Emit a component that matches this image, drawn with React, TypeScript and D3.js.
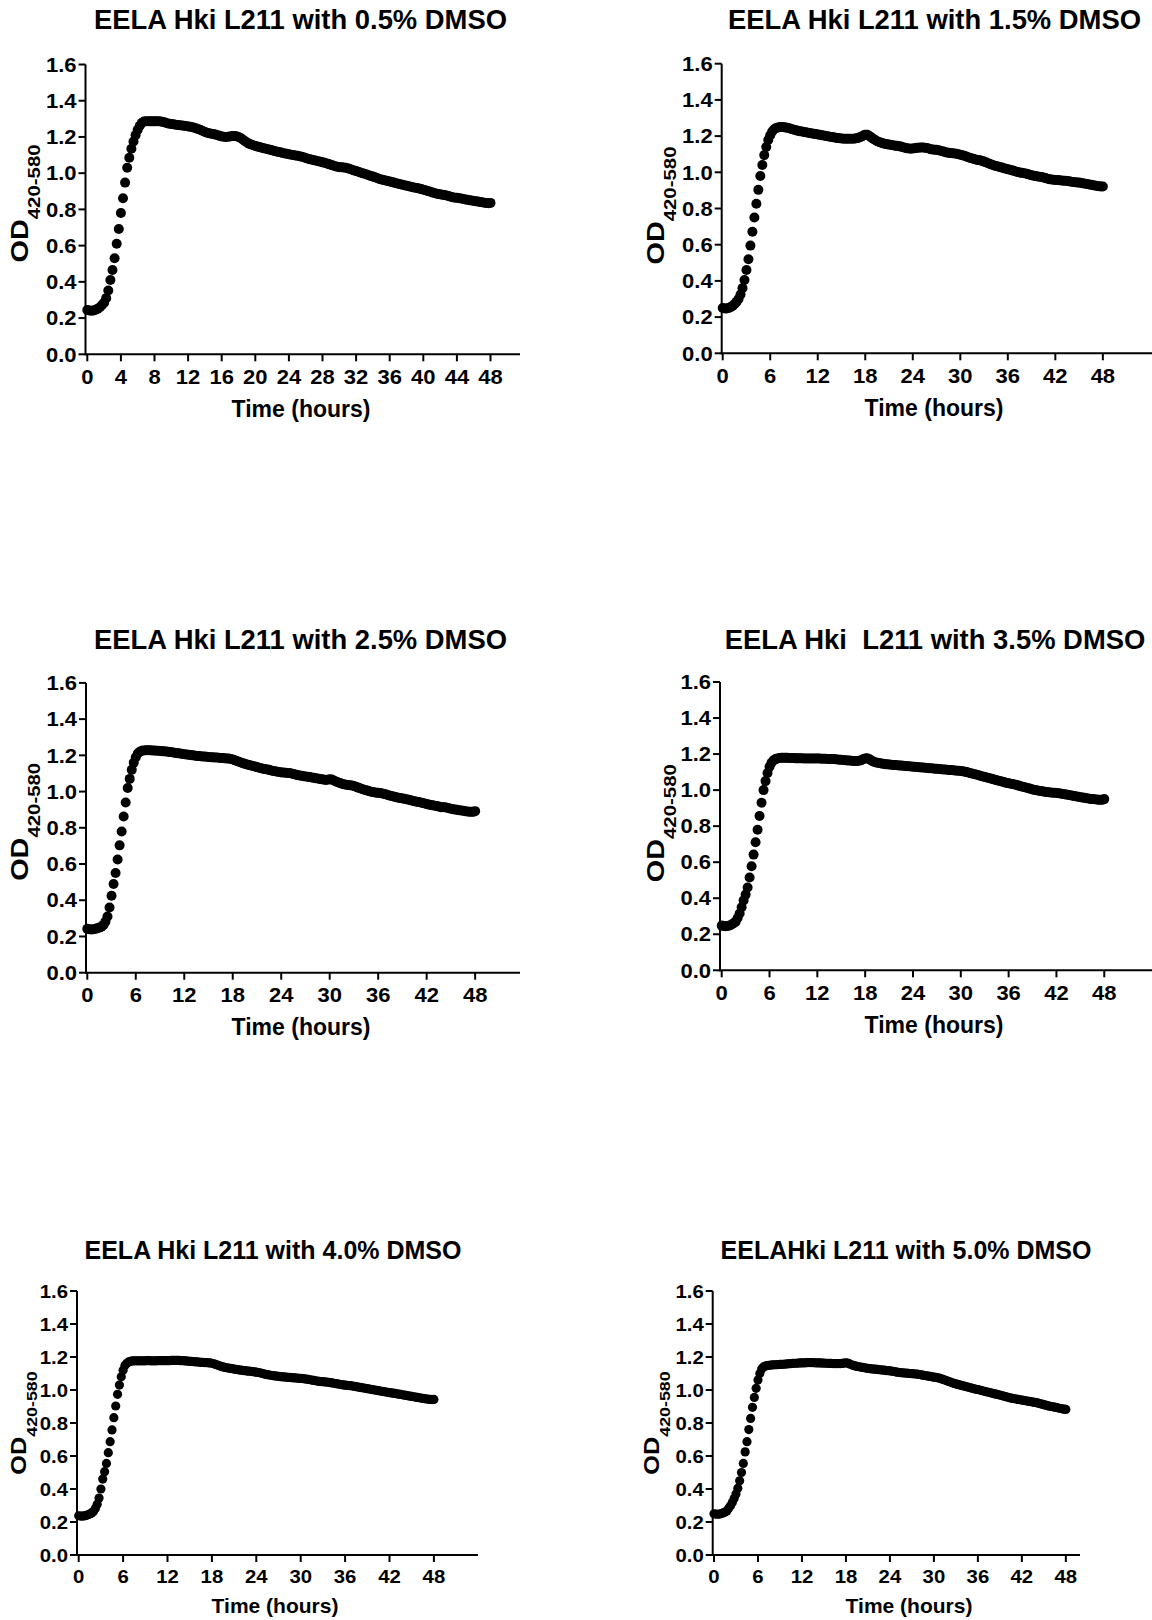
import React from 'react';
import * as d3 from 'd3';

// Sampling grid of the plate reader (every 15 minutes, 0–48 h)
const SAMPLE_STEP_HOURS = 0.25;
const HOURS: number[] = d3.range(0, 48 + 1e-9, SAMPLE_STEP_HOURS);

// OD420-580 readings, one row per hour (4 readings each), last value at 48 h
const OD_05 = [
  0.245,0.242,0.241,0.242, 0.246,0.252,0.260,0.272, 0.285,0.310,0.352,0.410, 0.465,0.530,0.610,0.692,
  0.780,0.862,0.948,1.030, 1.085,1.135,1.175,1.210, 1.240,1.262,1.278,1.285, 1.287,1.287,1.286,1.286,
  1.286,1.287,1.286,1.285, 1.283,1.280,1.276,1.273, 1.272,1.270,1.268,1.266, 1.265,1.263,1.262,1.260,
  1.258,1.256,1.254,1.251, 1.247,1.243,1.238,1.233, 1.228,1.223,1.220,1.218, 1.216,1.213,1.210,1.206,
  1.203,1.201,1.200,1.201, 1.203,1.205,1.205,1.204, 1.200,1.194,1.186,1.178, 1.170,1.163,1.158,1.154,
  1.150,1.147,1.144,1.141, 1.138,1.135,1.132,1.129, 1.126,1.123,1.120,1.117, 1.115,1.112,1.109,1.107,
  1.105,1.102,1.100,1.098, 1.096,1.093,1.091,1.088, 1.084,1.080,1.077,1.074, 1.072,1.069,1.066,1.063,
  1.060,1.057,1.053,1.050, 1.046,1.042,1.038,1.035, 1.033,1.033,1.032,1.030, 1.027,1.023,1.019,1.015,
  1.012,1.008,1.004,1.000, 0.997,0.993,0.989,0.985, 0.981,0.977,0.973,0.968, 0.965,0.962,0.960,0.957,
  0.954,0.951,0.948,0.945, 0.942,0.939,0.936,0.934, 0.931,0.928,0.925,0.922, 0.920,0.918,0.915,0.912,
  0.909,0.906,0.902,0.899, 0.895,0.891,0.888,0.885, 0.883,0.881,0.879,0.877, 0.874,0.870,0.867,0.865,
  0.864,0.862,0.860,0.857, 0.855,0.853,0.851,0.849, 0.847,0.845,0.843,0.841, 0.839,0.837,0.835,0.834,
  0.836,
];

const OD_15 = [
  0.250,0.248,0.248,0.250, 0.255,0.262,0.272,0.284, 0.300,0.325,0.360,0.405, 0.460,0.520,0.595,0.672,
  0.750,0.826,0.903,0.980, 1.040,1.095,1.140,1.178, 1.205,1.225,1.238,1.245, 1.248,1.250,1.250,1.249,
  1.247,1.245,1.242,1.238, 1.235,1.232,1.229,1.227, 1.225,1.223,1.221,1.219, 1.217,1.215,1.213,1.211,
  1.209,1.207,1.205,1.203, 1.201,1.199,1.197,1.195, 1.193,1.191,1.189,1.188, 1.187,1.186,1.185,1.185,
  1.185,1.185,1.186,1.187, 1.189,1.192,1.197,1.203, 1.208,1.207,1.201,1.193, 1.185,1.178,1.172,1.167,
  1.163,1.160,1.157,1.155, 1.153,1.151,1.149,1.147, 1.146,1.144,1.142,1.139, 1.136,1.133,1.131,1.130,
  1.131,1.133,1.135,1.136, 1.137,1.137,1.136,1.134, 1.131,1.128,1.126,1.125, 1.124,1.122,1.119,1.116,
  1.113,1.110,1.108,1.106, 1.105,1.104,1.102,1.100, 1.097,1.094,1.091,1.087, 1.083,1.079,1.076,1.073,
  1.070,1.068,1.066,1.063, 1.059,1.055,1.050,1.046, 1.042,1.038,1.035,1.032, 1.029,1.026,1.023,1.020,
  1.017,1.014,1.011,1.008, 1.005,1.002,0.999,0.997, 0.995,0.993,0.990,0.987, 0.984,0.981,0.979,0.977,
  0.976,0.974,0.971,0.968, 0.965,0.962,0.960,0.959, 0.958,0.957,0.956,0.955, 0.954,0.953,0.952,0.950,
  0.948,0.946,0.945,0.944, 0.943,0.941,0.939,0.937, 0.935,0.933,0.931,0.929, 0.927,0.925,0.923,0.922,
  0.922,
];

const OD_25 = [
  0.242,0.240,0.239,0.240, 0.242,0.245,0.249,0.254, 0.264,0.282,0.310,0.360, 0.425,0.490,0.550,0.625,
  0.703,0.780,0.862,0.940, 1.020,1.070,1.120,1.160, 1.190,1.210,1.220,1.225, 1.227,1.228,1.228,1.228,
  1.227,1.227,1.226,1.225, 1.224,1.223,1.222,1.221, 1.220,1.218,1.217,1.215, 1.213,1.211,1.210,1.208,
  1.206,1.205,1.203,1.202, 1.200,1.199,1.197,1.196, 1.195,1.194,1.193,1.192, 1.191,1.190,1.189,1.188,
  1.188,1.187,1.186,1.185, 1.184,1.183,1.182,1.180, 1.177,1.173,1.169,1.165, 1.161,1.157,1.153,1.150,
  1.147,1.144,1.141,1.138, 1.135,1.132,1.129,1.126, 1.124,1.122,1.120,1.117, 1.114,1.112,1.110,1.108,
  1.106,1.105,1.104,1.103, 1.102,1.100,1.097,1.094, 1.091,1.089,1.087,1.085, 1.083,1.082,1.080,1.078,
  1.076,1.074,1.072,1.070, 1.068,1.066,1.064,1.065, 1.068,1.066,1.061,1.056, 1.051,1.047,1.043,1.040,
  1.038,1.036,1.035,1.034, 1.031,1.027,1.022,1.018, 1.014,1.010,1.007,1.004, 1.001,0.998,0.996,0.994,
  0.993,0.992,0.990,0.987, 0.984,0.980,0.977,0.974, 0.971,0.968,0.966,0.964, 0.962,0.960,0.958,0.955,
  0.952,0.949,0.946,0.944, 0.942,0.940,0.937,0.934, 0.931,0.928,0.926,0.924, 0.922,0.920,0.917,0.914,
  0.914,0.913,0.911,0.908, 0.905,0.903,0.901,0.899, 0.897,0.896,0.894,0.892, 0.890,0.889,0.888,0.888,
  0.892,
];

const OD_35 = [
  0.248,0.246,0.245,0.246, 0.249,0.254,0.261,0.270, 0.290,0.315,0.350,0.388, 0.420,0.460,0.515,0.577,
  0.642,0.711,0.780,0.857, 0.930,1.000,1.050,1.095, 1.130,1.152,1.165,1.172, 1.176,1.178,1.179,1.179,
  1.179,1.179,1.178,1.178, 1.178,1.177,1.177,1.177, 1.177,1.176,1.176,1.176, 1.176,1.175,1.175,1.175,
  1.175,1.175,1.174,1.174, 1.174,1.173,1.173,1.172, 1.172,1.171,1.170,1.169, 1.168,1.167,1.166,1.165,
  1.164,1.163,1.162,1.162, 1.162,1.163,1.166,1.171, 1.176,1.177,1.172,1.165, 1.159,1.155,1.152,1.150,
  1.148,1.146,1.144,1.143, 1.142,1.141,1.140,1.139, 1.138,1.137,1.136,1.135, 1.134,1.133,1.132,1.131,
  1.130,1.129,1.128,1.127, 1.126,1.125,1.124,1.123, 1.122,1.121,1.120,1.119, 1.118,1.117,1.116,1.115,
  1.114,1.113,1.112,1.111, 1.110,1.109,1.108,1.107, 1.106,1.104,1.102,1.100, 1.097,1.094,1.091,1.088,
  1.085,1.082,1.079,1.076, 1.073,1.070,1.067,1.064, 1.061,1.058,1.055,1.052, 1.049,1.046,1.043,1.040,
  1.038,1.036,1.034,1.031, 1.028,1.025,1.022,1.019, 1.016,1.013,1.010,1.007, 1.004,1.001,0.999,0.997,
  0.995,0.993,0.991,0.989, 0.988,0.987,0.986,0.985, 0.984,0.983,0.981,0.979, 0.977,0.975,0.973,0.971,
  0.969,0.967,0.965,0.963, 0.961,0.959,0.957,0.955, 0.953,0.951,0.950,0.949, 0.948,0.947,0.946,0.946,
  0.950,
];

const OD_40 = [
  0.238,0.236,0.236,0.237, 0.240,0.244,0.249,0.255, 0.264,0.282,0.307,0.345, 0.400,0.460,0.505,0.555,
  0.620,0.687,0.758,0.832, 0.903,0.974,1.030,1.080, 1.120,1.148,1.162,1.170, 1.174,1.176,1.177,1.177,
  1.177,1.177,1.177,1.177, 1.177,1.178,1.178,1.177, 1.177,1.177,1.177,1.178, 1.178,1.178,1.178,1.178,
  1.178,1.178,1.179,1.179, 1.179,1.179,1.179,1.178, 1.178,1.177,1.176,1.175, 1.174,1.173,1.172,1.171,
  1.170,1.169,1.168,1.167, 1.166,1.166,1.165,1.164, 1.162,1.159,1.155,1.151, 1.147,1.143,1.140,1.137,
  1.135,1.133,1.131,1.129, 1.127,1.125,1.123,1.121, 1.120,1.118,1.117,1.115, 1.114,1.113,1.111,1.110,
  1.108,1.106,1.104,1.101, 1.098,1.095,1.093,1.091, 1.089,1.087,1.086,1.084, 1.083,1.081,1.080,1.079,
  1.078,1.077,1.076,1.075, 1.074,1.073,1.072,1.071, 1.070,1.069,1.068,1.066, 1.064,1.062,1.060,1.058,
  1.056,1.054,1.052,1.051, 1.050,1.049,1.048,1.047, 1.045,1.043,1.041,1.039, 1.037,1.035,1.033,1.031,
  1.029,1.028,1.027,1.026, 1.024,1.022,1.020,1.018, 1.016,1.014,1.012,1.010, 1.008,1.006,1.004,1.002,
  1.000,0.998,0.996,0.994, 0.992,0.990,0.988,0.986, 0.984,0.982,0.981,0.979, 0.977,0.975,0.973,0.971,
  0.969,0.967,0.965,0.963, 0.961,0.959,0.957,0.955, 0.953,0.951,0.949,0.947, 0.946,0.944,0.943,0.942,
  0.943,
];

const OD_50 = [
  0.250,0.248,0.247,0.248, 0.251,0.255,0.260,0.266, 0.283,0.298,0.318,0.342, 0.370,0.405,0.450,0.500,
  0.555,0.625,0.687,0.760, 0.828,0.895,0.955,1.010, 1.060,1.100,1.128,1.140, 1.145,1.148,1.150,1.151,
  1.152,1.153,1.153,1.154, 1.155,1.155,1.156,1.157, 1.158,1.159,1.160,1.161, 1.162,1.162,1.163,1.164,
  1.164,1.165,1.165,1.166, 1.166,1.166,1.166,1.165, 1.165,1.164,1.164,1.163, 1.163,1.162,1.162,1.161,
  1.161,1.160,1.160,1.160, 1.160,1.160,1.161,1.163, 1.165,1.163,1.158,1.153, 1.149,1.146,1.143,1.141,
  1.139,1.137,1.135,1.133, 1.131,1.130,1.128,1.127, 1.126,1.125,1.123,1.122, 1.121,1.120,1.118,1.117,
  1.116,1.114,1.112,1.110, 1.108,1.106,1.105,1.104, 1.103,1.102,1.101,1.100, 1.099,1.098,1.097,1.096,
  1.094,1.092,1.090,1.088, 1.086,1.084,1.082,1.080, 1.078,1.076,1.074,1.072, 1.068,1.064,1.060,1.056,
  1.052,1.048,1.044,1.040, 1.037,1.034,1.031,1.028, 1.025,1.022,1.019,1.016, 1.013,1.010,1.007,1.004,
  1.003,1.000,0.997,0.994, 0.991,0.988,0.986,0.983, 0.980,0.977,0.975,0.972, 0.969,0.966,0.963,0.960,
  0.957,0.954,0.951,0.949, 0.947,0.945,0.943,0.941, 0.939,0.937,0.935,0.933, 0.931,0.929,0.927,0.925,
  0.923,0.920,0.917,0.914, 0.911,0.908,0.905,0.902, 0.900,0.898,0.896,0.894, 0.891,0.888,0.886,0.884,
  0.882,
];

const TITLES = [
  'EELA Hki L211 with 0.5% DMSO',
  'EELA Hki L211 with 1.5% DMSO',
  'EELA Hki L211 with 2.5% DMSO',
  'EELA Hki  L211 with 3.5% DMSO',
  'EELA Hki L211 with 4.0% DMSO',
  'EELAHki L211 with 5.0% DMSO',
];

const X_TICKS_4H = [0, 4, 8, 12, 16, 20, 24, 28, 32, 36, 40, 44, 48];
const X_TICKS_6H = [0, 6, 12, 18, 24, 30, 36, 42, 48];
const Y_TICKS = [0, 0.2, 0.4, 0.6, 0.8, 1.0, 1.2, 1.4, 1.6];
const Y_DOMAIN = [0, 1.6];
const X_LABEL = 'Time (hours)';
const Y_LABEL_MAIN = 'OD';
const Y_LABEL_SUB = '420-580';

// ---- layout (pixels) ----
type Layout = {
  axisX: number; x0: number; pph: number; xEnd: number; yTop: number; yBot: number;
  titleX: number; titleY: number; xLabX: number; xLabY: number; yLabX: number; yLabShift: number;
  fTitle: number; fTick: number; tickSx: number; fAxis: number; fOD: number; fSub: number; odSx: number;
  r: number; tickLabDy: number;
};

const TOP = { fTitle: 27.4, fTick: 20, tickSx: 1.1, fAxis: 23, fOD: 24, fSub: 17, odSx: 1.2, r: 5.0, tickLabDy: 29.5 };
const BOT = { fTitle: 25, fTick: 18.5, tickSx: 1.1, fAxis: 21, fOD: 22, fSub: 15.5, odSx: 1.15, r: 4.6, tickLabDy: 27.5 };

const PANELS: { series: number[]; title: string; xTicks: number[]; L: Layout }[] = [
  { series: OD_05, title: TITLES[0], xTicks: X_TICKS_4H,
    L: { ...TOP, axisX: 85.5, x0: 87.3, pph: 8.40, xEnd: 520, yTop: 64.5, yBot: 354.3,
      titleX: 300.5, titleY: 29, xLabX: 301, xLabY: 417, yLabX: 28, yLabShift: -6 } },
  { series: OD_15, title: TITLES[1], xTicks: X_TICKS_6H,
    L: { ...TOP, axisX: 721.7, x0: 722.7, pph: 7.92, xEnd: 1160, yTop: 63.7, yBot: 353.3,
      titleX: 934.5, titleY: 29, xLabX: 934, xLabY: 416, yLabX: 664, yLabShift: -3 } },
  { series: OD_25, title: TITLES[2], xTicks: X_TICKS_6H,
    L: { ...TOP, axisX: 86, x0: 87.3, pph: 8.08, xEnd: 520, yTop: 682.9, yBot: 972.7,
      titleX: 300.5, titleY: 649, xLabX: 301, xLabY: 1035, yLabX: 28, yLabShift: -6 } },
  { series: OD_35, title: TITLES[3], xTicks: X_TICKS_6H,
    L: { ...TOP, axisX: 720, x0: 721.7, pph: 7.97, xEnd: 1160, yTop: 682, yBot: 970.3,
      titleX: 935, titleY: 649, xLabX: 934, xLabY: 1033, yLabX: 664, yLabShift: -3 } },
  { series: OD_40, title: TITLES[4], xTicks: X_TICKS_6H,
    L: { ...BOT, axisX: 77, x0: 78.7, pph: 7.40, xEnd: 478, yTop: 1291, yBot: 1555,
      titleX: 273, titleY: 1258.5, xLabX: 275, xLabY: 1613, yLabX: 26, yLabShift: 0 } },
  { series: OD_50, title: TITLES[5], xTicks: X_TICKS_6H,
    L: { ...BOT, axisX: 712.7, x0: 714, pph: 7.33, xEnd: 1080, yTop: 1291, yBot: 1555,
      titleX: 906, titleY: 1258.5, xLabX: 909, xLabY: 1613, yLabX: 659, yLabShift: 0 } },
];

const FONT = '"Liberation Sans", Arial, Helvetica, sans-serif';

function Panel({ series, title, xTicks, L }: { series: number[]; title: string; xTicks: number[]; L: Layout }) {
  const x = d3.scaleLinear().domain([0, 48]).range([L.x0, L.x0 + 48 * L.pph]);
  const y = d3.scaleLinear().domain(Y_DOMAIN).range([L.yBot, L.yTop]);
  const fmt = d3.format('.1f');
  const tickLen = 7;
  const yMid = (L.yTop + L.yBot) / 2 + L.yLabShift;
  return (
    <g fontFamily={FONT} fontWeight="bold" fill="#000">
      <text x={L.titleX} y={L.titleY} textAnchor="middle" fontSize={L.fTitle} style={{ whiteSpace: 'pre' }}>{title}</text>
      {/* y axis */}
      <line x1={L.axisX} x2={L.axisX} y1={L.yBot + 1} y2={L.yTop} stroke="#000" strokeWidth={2} />
      {Y_TICKS.map((t) => (
        <g key={'y' + t}>
          <line x1={L.axisX - tickLen} x2={L.axisX} y1={y(t)} y2={y(t)} stroke="#000" strokeWidth={2} />
          <text transform={`translate(${L.axisX - 9},${y(t) + L.fTick * 0.36}) scale(${L.tickSx},1)`}
            textAnchor="end" fontSize={L.fTick}>{fmt(t)}</text>
        </g>
      ))}
      {/* x axis */}
      <line x1={L.axisX - 1} x2={L.xEnd} y1={L.yBot} y2={L.yBot} stroke="#000" strokeWidth={2} />
      {xTicks.map((t) => (
        <g key={'x' + t}>
          <line x1={x(t)} x2={x(t)} y1={L.yBot} y2={L.yBot + tickLen} stroke="#000" strokeWidth={2} />
          <text transform={`translate(${x(t)},${L.yBot + L.tickLabDy}) scale(${L.tickSx},1)`}
            textAnchor="middle" fontSize={L.fTick}>{t}</text>
        </g>
      ))}
      <text x={L.xLabX} y={L.xLabY} textAnchor="middle" fontSize={L.fAxis}>{X_LABEL}</text>
      <text transform={`translate(${L.yLabX},${yMid}) rotate(-90) scale(${L.odSx},1)`} textAnchor="middle" fontSize={L.fOD}>
        {Y_LABEL_MAIN}
        <tspan fontSize={L.fSub} dy={L.fOD * 0.5}>{Y_LABEL_SUB}</tspan>
      </text>
      {/* data */}
      {series.map((v, i) => (
        <circle key={i} cx={x(HOURS[i])} cy={y(v)} r={L.r} fill="#000" />
      ))}
    </g>
  );
}

export default function App() {
  return (
    <svg width={1152} height={1620} viewBox="0 0 1152 1620"
      style={{ position: 'absolute', left: 0, top: 0, display: 'block', background: '#fff' }}>
      <rect x={0} y={0} width={1152} height={1620} fill="#fff" />
      {PANELS.map((p, i) => (
        <Panel key={i} series={p.series} title={p.title} xTicks={p.xTicks} L={p.L} />
      ))}
    </svg>
  );
}
